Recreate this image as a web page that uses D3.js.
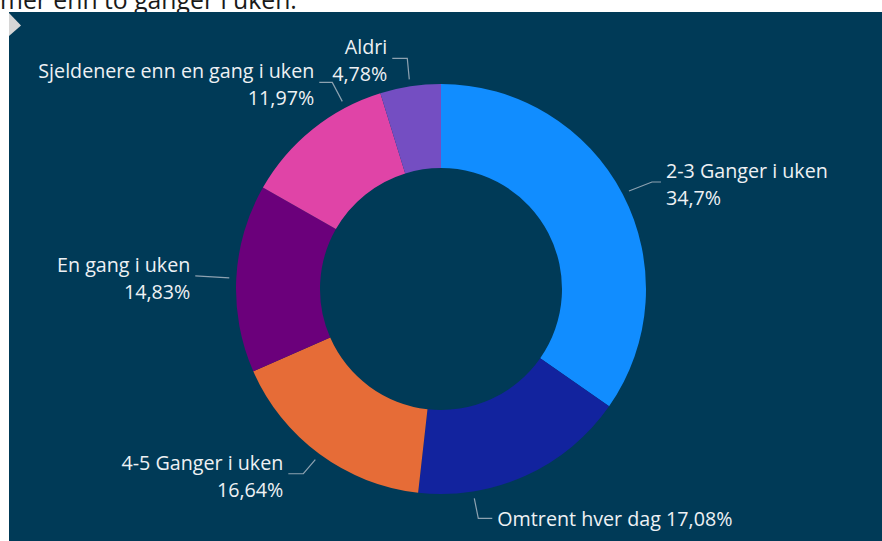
<!DOCTYPE html>
<html>
<head>
<meta charset="utf-8">
<script src="https://cdn.jsdelivr.net/npm/d3@7"></script>
<style>
html,body{margin:0;padding:0;background:#fff;}
svg{display:block;}
</style>
</head>
<body>
<svg id="chart" width="882" height="541"></svg>
<script>
// ---- data ----
const categories = ["2-3 Ganger i uken", "Omtrent hver dag", "4-5 Ganger i uken", "En gang i uken", "Sjeldenere enn en gang i uken", "Aldri"];
const values = [34.7, 17.08, 16.64, 14.83, 11.97, 4.78];
const sliceColors = ["#118DFF", "#12239E", "#E66C37", "#6B007B", "#E044A7", "#744EC2"];
const titleText = "mer enn to ganger i uken.";

// ---- label layout (annotation placement, relative to leader start) ----
const labelLayout = [
  {nudge: 0,    elbow: [23, -9],  end: [32, -9],  side: "right", oneLine: false},
  {nudge: 15.3, elbow: [4, 20],   end: [18, 20],  side: "right", oneLine: true},
  {nudge: 0,    elbow: [-12, 14], end: [-27, 14], side: "left",  oneLine: false},
  {nudge: 0,    elbow: [-17, -1], end: [-34, -2], side: "left",  oneLine: false},
  {nudge: 11,   elbow: [-10, -19],end: [-23, -19],side: "left",  oneLine: false},
  {nudge: 0,    elbow: [-2, -21], end: [-17, -21],side: "left",  oneLine: false}
];

const W = 882, H = 541;
const svg = d3.select("#chart");
const FONT = "'Open Sans', 'Noto Sans', sans-serif";

// cut-off title above the panel
const title = svg.append("text")
  .attr("x", 0).attr("y", 8.5)
  .attr("font-family", FONT)
  .attr("font-size", 22)
  .attr("fill", "#1a1a1a")
  .text(titleText);
const tw = title.node().getComputedTextLength();
title.attr("font-size", 22 * 297 / tw);

// panel
svg.append("rect").attr("x", 9).attr("y", 12).attr("width", W - 9).attr("height", H - 12).attr("fill", "#003A57");
svg.append("path").attr("d", "M9,13 L21,25.5 L9,36 Z").attr("fill", "#d6d6d6");

const cx = 441, cy = 289, rOuter = 205, rInner = 121;
const g = svg.append("g").attr("transform", `translate(${cx},${cy})`);

const pie = d3.pie().sort(null).value(d => d.v).startAngle(0).endAngle(2 * Math.PI);
const data = categories.map((c, i) => ({c, v: values[i], color: sliceColors[i], lay: labelLayout[i]}));
const arcs = pie(data);
const arc = d3.arc().innerRadius(rInner).outerRadius(rOuter);

g.selectAll("path.slice").data(arcs).enter().append("path")
  .attr("class", "slice")
  .attr("d", arc)
  .attr("fill", d => d.data.color);

const fmt = v => String(v).replace(".", ",") + "%";

// determine label font size so it matches reference text width
const probe = svg.append("text").attr("font-family", FONT).attr("font-size", 20).text(categories[0]);
const fs = 20 * 162 / probe.node().getComputedTextLength();
probe.remove();

const rLead = rOuter + 7;
const labels = svg.append("g");
arcs.forEach(a => {
  const lay = a.data.lay;
  const ang = (a.startAngle + a.endAngle) / 2 + lay.nudge * Math.PI / 180;
  const sx = cx + rLead * Math.sin(ang), sy = cy - rLead * Math.cos(ang);
  const ex = sx + lay.end[0], ey = sy + lay.end[1];
  labels.append("polyline")
    .attr("points", [[sx, sy], [sx + lay.elbow[0], sy + lay.elbow[1]], [ex, ey]].map(p => p.join(",")).join(" "))
    .attr("fill", "none").attr("stroke", "#8da2b1").attr("stroke-width", 1.2);
  const right = lay.side === "right";
  const tx = right ? ex + 5 : ex - 5;
  const t = labels.append("text")
    .attr("font-family", FONT).attr("font-size", fs)
    .attr("fill", "#eef1f4")
    .attr("text-anchor", right ? "start" : "end");
  if (lay.oneLine) {
    t.append("tspan").attr("x", tx).attr("y", ey + 8).text(a.data.c + " " + fmt(a.data.v));
  } else {
    t.append("tspan").attr("x", tx).attr("y", ey - 4).text(a.data.c);
    t.append("tspan").attr("x", tx).attr("y", ey + 23).text(fmt(a.data.v));
  }
});
</script>
</body>
</html>
